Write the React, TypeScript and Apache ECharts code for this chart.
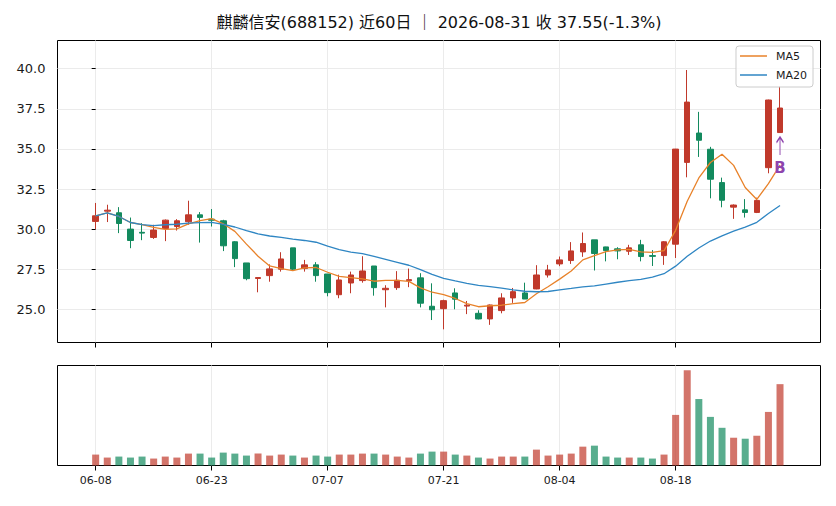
import React, { useEffect, useRef } from 'react';
import * as echarts from 'echarts';

const stockName = '麒麟信安';
const stockCode = '688152';
const lastDate = '2026-08-31';

const dates = [
  '06-08','06-09','06-10','06-11','06-12','06-15','06-16','06-17','06-18','06-22',
  '06-23','06-24','06-25','06-26','06-29','06-30','07-01','07-02','07-03','07-06',
  '07-07','07-08','07-09','07-10','07-13','07-14','07-15','07-16','07-17','07-20',
  '07-21','07-22','07-23','07-24','07-27','07-28','07-29','07-30','07-31','08-03',
  '08-04','08-05','08-06','08-07','08-10','08-11','08-12','08-13','08-14','08-17',
  '08-18','08-19','08-20','08-21','08-24','08-25','08-26','08-27','08-28','08-31',
];

const opens = [
  30.48, 31.12, 31.02, 30.00, 29.80, 29.48, 30.04, 30.16, 30.46, 30.89,
  30.62, 30.52, 29.21, 27.89, 26.92, 27.10, 27.50, 28.83, 27.54, 27.77,
  27.20, 25.91, 26.64, 26.79, 27.70, 26.22, 26.35, 26.78, 26.96, 25.19,
  25.04, 26.02, 25.20, 24.75, 24.40, 24.92, 25.71, 26.02, 26.27, 27.14,
  27.83, 28.04, 28.58, 29.33, 28.89, 28.77, 28.62, 29.02, 28.35, 28.35,
  29.06, 34.16, 35.99, 34.98, 32.90, 31.37, 31.20, 31.04, 33.83, 36.02,
];
const closes = [
  30.83, 31.18, 30.35, 29.29, 29.75, 29.94, 30.56, 30.52, 30.89, 30.73,
  30.55, 28.96, 28.16, 26.91, 26.98, 27.52, 28.14, 27.50, 27.77, 27.10,
  26.04, 26.83, 27.14, 27.39, 26.35, 26.31, 26.81, 26.85, 25.38, 24.97,
  25.54, 25.63, 25.26, 24.40, 25.27, 25.71, 26.10, 25.64, 27.14, 27.45,
  28.08, 28.64, 29.10, 28.48, 28.66, 28.64, 28.83, 28.29, 28.30, 29.21,
  34.99, 37.92, 35.54, 33.11, 31.80, 31.50, 31.04, 31.79, 38.05, 37.55,
];
const lows = [
  30.00, 30.44, 29.75, 28.81, 29.31, 29.39, 29.25, 29.91, 30.27, 29.16,
  30.16, 28.63, 27.63, 26.81, 26.06, 26.72, 27.35, 27.45, 27.35, 26.72,
  25.81, 25.69, 26.00, 26.66, 25.85, 25.12, 26.21, 26.38, 25.12, 24.33,
  23.75, 25.00, 24.70, 24.37, 24.03, 24.75, 25.40, 25.64, 26.25, 26.98,
  27.69, 27.83, 28.27, 27.42, 27.99, 28.12, 28.39, 27.99, 27.70, 27.77,
  28.20, 33.23, 34.50, 31.92, 31.36, 30.64, 30.72, 31.00, 33.48, 36.02,
];
const highs = [
  31.63, 31.52, 31.37, 30.72, 30.37, 30.27, 30.60, 30.62, 31.77, 31.06,
  31.25, 30.58, 29.25, 27.89, 26.98, 27.80, 28.56, 28.83, 28.08, 27.94,
  27.20, 27.16, 27.35, 28.31, 27.70, 26.50, 27.38, 27.54, 27.25, 26.62,
  25.60, 26.31, 25.52, 24.94, 25.30, 26.00, 26.33, 26.66, 27.75, 27.77,
  28.29, 29.19, 29.79, 29.33, 28.90, 28.87, 29.02, 29.33, 28.69, 29.25,
  35.00, 39.92, 37.31, 35.13, 33.21, 31.54, 31.87, 31.96, 38.07, 38.90,
];
const volumes = [
  11, 8, 9, 8, 9, 7, 9, 8, 12, 12,
  8, 13, 12, 10, 12, 10, 11, 10, 8, 10,
  9, 11, 11, 12, 12, 11, 9, 8, 12, 14,
  14, 11, 10, 8, 7, 9, 9, 9, 16, 10,
  11, 12, 19, 20, 9, 8, 8, 8, 7, 11,
  51, 96, 67, 49, 38, 28, 27, 30, 54, 82,
];

const labelIndices = [0, 10, 20, 30, 40, 50];
const priceTicks = [25, 27.5, 30, 32.5, 35, 37.5, 40];
const signals = [{ index: 59, label: 'B' }];

const UP = '#c0392b';
const DOWN = '#138a5e';
const MA5_COLOR = '#e8822a';
const MA20_COLOR = '#2f86c3';
const SIGNAL_COLOR = '#8e44ad';
const FONT = '"DejaVu Sans", "Noto Sans CJK SC", sans-serif';

function movingAverage(values: number[], win: number): number[] {
  return values.map((_, i) => {
    const start = Math.max(0, i - win + 1);
    const part = values.slice(start, i + 1);
    return part.reduce((a, b) => a + b, 0) / part.length;
  });
}

export default function App() {
  const ref = useRef<HTMLDivElement>(null);

  useEffect(() => {
    document.body.style.margin = '0';
    if (!ref.current) return;
    const chart = echarts.init(ref.current, undefined, { renderer: 'svg' });

    const n = closes.length;
    const last = closes[n - 1];
    const prev = closes[n - 2];
    const pct = ((last / prev - 1) * 100).toFixed(1);
    const title = `${stockName}(${stockCode}) 近${n}日 ｜ ${lastDate} 收 ${last.toFixed(2)}(${pct}%)`;

    const ma5 = movingAverage(closes, 5);
    const ma20 = movingAverage(closes, 20);
    const volMax = Math.max(...volumes) * 1.05;

    const gridLeft = 57.5;
    const gridWidth = 763;
    const xMin = -3.29;
    const xMax = 62.49;

    const makeX = (gi: number) => ({
      type: 'value',
      gridIndex: gi,
      min: xMin,
      max: xMax,
      axisLine: { show: false },
      axisTick: { show: true, length: 5, lineStyle: { color: '#000' }, customValues: labelIndices },
      axisLabel: {
        show: gi === 1,
        customValues: labelIndices,
        formatter: (v: number) => dates[Math.round(v)] ?? '',
        fontSize: 11,
        color: '#1a1a1a',
        margin: 9,
        fontFamily: FONT,
      },
      splitLine: { show: true, lineStyle: { color: '#ebebeb', width: 1 } },
    });

    const markData: any[] = [];
    signals.forEach((s) => {
      markData.push({
        coord: [s.index, lows[s.index] - 0.84],
        symbol: 'path://M0,6 L5,0 L10,6 M5,0 L5,20',
        symbolSize: [7, 18],
        itemStyle: { color: 'none', borderColor: SIGNAL_COLOR, borderWidth: 1.5 },
        label: { show: false },
      });
      markData.push({
        coord: [s.index, lows[s.index] - 2.21],
        symbol: 'rect',
        symbolSize: 1,
        itemStyle: { color: 'transparent' },
        label: {
          show: true,
          formatter: s.label,
          position: 'inside',
          color: SIGNAL_COLOR,
          fontWeight: 'bold',
          fontSize: 15,
          fontFamily: FONT,
        },
      });
    });

    chart.setOption({
      animation: false,
      textStyle: { fontFamily: FONT },
      graphic: [
        {
          type: 'text',
          x: gridLeft + gridWidth / 2,
          y: 22,
          style: {
            text: title,
            align: 'center',
            verticalAlign: 'middle',
            fontSize: 16,
            fill: '#111',
            fontFamily: FONT,
          },
        },
      ],
      legend: {
        data: [
          { name: 'MA5', icon: 'rect' },
          { name: 'MA20', icon: 'rect' },
        ],
        orient: 'vertical',
        right: 23,
        top: 46,
        itemWidth: 27,
        itemHeight: 1.5,
        itemGap: 7,
        padding: [4, 6, 6, 4],
        borderColor: '#cccccc',
        borderWidth: 1,
        borderRadius: 3,
        backgroundColor: 'rgba(255,255,255,0.8)',
        textStyle: { fontSize: 11, color: '#1a1a1a', fontFamily: FONT, padding: [0, 0, 0, 4], lineHeight: 12 },
        z: 10,
      },
      grid: [
        { left: gridLeft, top: 40.5, width: gridWidth, height: 302, show: true, borderColor: '#000', borderWidth: 1, backgroundColor: 'transparent' },
        { left: gridLeft, top: 365.5, width: gridWidth, height: 100, show: true, borderColor: '#000', borderWidth: 1, backgroundColor: 'transparent' },
      ],
      xAxis: [makeX(0), makeX(1)],
      yAxis: [
        {
          type: 'value',
          gridIndex: 0,
          min: 22.93,
          max: 41.76,
          axisLine: { show: false },
          axisTick: { show: true, length: 4, lineStyle: { color: '#000' }, customValues: priceTicks },
          axisLabel: {
            customValues: priceTicks,
            formatter: (v: number) => v.toFixed(1),
            fontSize: 13,
            color: '#1a1a1a',
            margin: 12,
            fontFamily: FONT,
          },
          splitLine: { show: true, lineStyle: { color: '#ebebeb', width: 1 } },
        },
        {
          type: 'value',
          gridIndex: 1,
          min: 0,
          max: volMax,
          axisLine: { show: false },
          axisTick: { show: false },
          axisLabel: { show: false },
          splitLine: { show: false },
        },
      ],
      series: [
        {
          type: 'candlestick',
          name: 'K',
          xAxisIndex: 0,
          yAxisIndex: 0,
          barWidth: 6,
          data: closes.map((c, i) => [i, opens[i], c, lows[i], highs[i]]),
          itemStyle: { color: UP, color0: DOWN, borderColor: UP, borderColor0: DOWN, borderWidth: 1 },
          markPoint: { silent: true, data: markData },
        },
        {
          type: 'line',
          name: 'MA5',
          xAxisIndex: 0,
          yAxisIndex: 0,
          data: ma5.map((v, i) => [i, v]),
          symbol: 'none',
          color: MA5_COLOR,
          lineStyle: { color: MA5_COLOR, width: 1.3 },
        },
        {
          type: 'line',
          name: 'MA20',
          xAxisIndex: 0,
          yAxisIndex: 0,
          data: ma20.map((v, i) => [i, v]),
          symbol: 'none',
          color: MA20_COLOR,
          lineStyle: { color: MA20_COLOR, width: 1.3 },
        },
        {
          type: 'bar',
          name: 'VOL',
          xAxisIndex: 1,
          yAxisIndex: 1,
          barWidth: 7,
          data: volumes.map((v, i) => ({
            value: [i, v],
            itemStyle: { color: closes[i] >= opens[i] ? UP : DOWN, opacity: 0.7 },
          })),
        },
      ],
    });

    return () => chart.dispose();
  }, []);

  return <div ref={ref} style={{ width: 836, height: 506 }} />;
}
